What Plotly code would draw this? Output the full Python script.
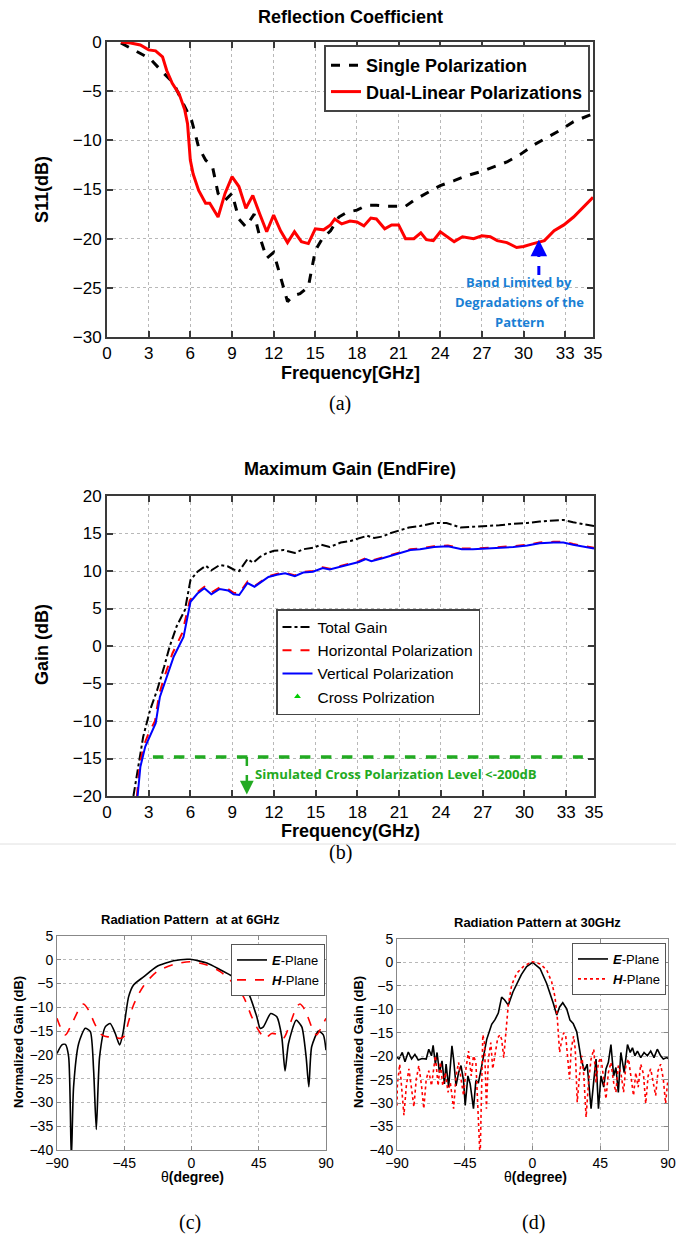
import plotly.graph_objects as go

W, H = 676, 1234

# ---------------- (a) Reflection coefficient ----------------
a_single_f = [1.0, 3.1, 4.1, 4.8, 5.5, 6.1, 6.6, 7.1, 7.6, 8.0, 8.5, 9.0, 9.5, 10.0, 10.6, 11.0,
              11.5, 12.0, 12.5, 13.0, 13.4, 13.9, 14.5, 15.0, 15.5, 16.1, 16.7, 17.3, 18.0, 18.7,
              19.4, 20.2, 20.9, 21.4, 22.1, 23.0, 24.0, 25.0, 25.9, 26.9, 27.8, 28.8, 29.8, 30.7,
              31.7, 32.6, 33.6, 35.0]
a_single_s = [-0.1, -1.7, -3.2, -4.2, -6.3, -8.0, -10.7, -12.0, -12.7, -15.4, -16.1, -15.4, -18.0,
              -18.8, -17.5, -19.8, -22.0, -21.4, -23.9, -26.4, -25.8, -25.6, -24.9, -21.2, -20.0,
              -19.2, -17.8, -17.3, -17.1, -16.6, -16.6, -16.7, -16.7, -16.8, -16.1, -15.4, -14.6,
              -14.1, -13.6, -13.2, -12.7, -12.2, -11.4, -10.5, -9.7, -9.0, -8.1, -7.3]
a_dual_f = [1.0, 1.7, 2.4, 3.0, 3.5, 4.0, 4.3, 4.7, 5.2, 5.6, 5.8, 6.0, 6.2, 6.6, 7.1, 7.4, 8.0,
            8.5, 9.0, 9.5, 10.0, 10.5, 11.0, 11.5, 12.0, 12.5, 13.0, 13.5, 14.0, 14.5, 15.0, 15.6,
            16.1, 16.4, 16.9, 17.5, 18.0, 18.5, 19.0, 19.4, 20.0, 20.5, 21.0, 21.5, 22.1, 22.6,
            23.0, 23.5, 24.0, 24.5, 25.0, 25.6, 26.4, 27.0, 27.6, 28.1, 28.8, 29.5, 30.0, 30.7,
            31.5, 32.2, 32.9, 33.6, 34.3, 35.0]
a_dual_s = [0.0, -0.1, -0.3, -0.8, -0.9, -1.5, -2.9, -4.2, -5.3, -6.9, -8.3, -12.0, -13.4, -15.1,
            -16.4, -16.4, -17.8, -15.4, -13.7, -14.7, -16.9, -15.6, -17.5, -19.3, -17.6, -19.2,
            -20.4, -19.3, -20.3, -20.5, -19.0, -19.1, -18.6, -18.0, -18.5, -18.2, -18.3, -18.7,
            -17.9, -18.0, -19.0, -18.6, -18.6, -20.0, -20.0, -19.4, -20.1, -20.2, -19.3, -19.8,
            -20.3, -19.8, -20.0, -19.7, -19.8, -20.2, -20.4, -20.9, -20.8, -20.5, -20.2, -19.2,
            -18.6, -17.8, -16.8, -15.8]
a_xticks = [0, 3, 6, 9, 12, 15, 18, 21, 24, 27, 30, 33, 35]

# ---------------- (b) Maximum gain ----------------
b_total_f = [1.9, 2.3, 2.6, 3.1, 3.6, 4.1, 4.5, 5.0, 5.6, 6.0, 6.5, 7.1, 7.5, 8.1, 8.7, 9.1, 9.5,
             10.1, 10.5, 11.0, 11.5, 12.0, 12.7, 13.5, 14.1, 14.8, 15.4, 16.0, 16.8, 17.5, 18.1,
             18.7, 19.2, 19.8, 20.3, 21.1, 21.7, 22.5, 23.5, 24.4, 25.4, 26.3, 27.3, 28.2, 29.2,
             30.2, 31.1, 32.1, 32.8, 33.5, 34.2, 35.0]
b_total_g = [-20.0, -15.6, -12.1, -8.5, -5.9, -2.8, -0.1, 2.6, 4.8, 8.8, 9.9, 10.7, 10.1, 10.8,
             10.6, 10.2, 10.0, 11.6, 11.1, 11.9, 12.4, 12.7, 12.8, 12.4, 12.9, 13.1, 13.5, 13.2,
             13.8, 14.0, 14.4, 14.7, 14.4, 14.6, 15.0, 15.5, 15.8, 16.0, 16.4, 16.4, 15.8, 15.9,
             16.0, 16.1, 16.3, 16.4, 16.6, 16.7, 16.8, 16.5, 16.3, 16.0]
b_vert_f = [2.2, 2.4, 2.75, 3.1, 3.5, 3.8, 4.3, 4.8, 5.5, 6.0, 6.5, 7.0, 7.5, 8.1, 8.7, 9.1, 9.5,
            10.1, 10.6, 11.0, 11.6, 12.2, 12.8, 13.5, 14.1, 14.8, 15.5, 16.0, 16.8, 17.5, 18.1,
            18.6, 19.0, 19.8, 20.3, 21.1, 21.8, 22.5, 23.5, 24.5, 25.5, 26.3, 27.3, 28.2, 29.2,
            30.2, 31.1, 32.1, 32.8, 33.5, 35.0]
b_vert_g = [-20.0, -16.1, -13.4, -11.9, -10.3, -6.8, -4.1, -1.4, 1.2, 5.9, 7.0, 7.7, 6.9, 7.6,
            7.4, 6.9, 6.8, 8.4, 7.9, 8.4, 9.2, 9.5, 9.7, 9.3, 9.8, 9.9, 10.4, 10.2, 10.6, 10.9,
            11.2, 11.6, 11.3, 11.7, 12.0, 12.4, 12.8, 12.9, 13.2, 13.3, 12.9, 12.9, 13.0, 13.1,
            13.2, 13.4, 13.7, 13.8, 13.8, 13.5, 13.0]
b_horiz_f = [2.15, 2.35, 2.7, 3.0, 3.45, 3.75, 4.2, 4.7, 5.4, 5.95, 6.5, 7.0, 7.5, 8.1, 8.7, 9.1,
             9.5, 10.1, 10.6, 11.0, 11.6, 12.2, 12.8, 13.5, 14.1, 14.8, 15.5, 16.0, 16.8, 17.5,
             18.1, 18.6, 19.0, 19.8, 20.3, 21.1, 21.8, 22.5, 23.5, 24.5, 25.5, 26.3, 27.3, 28.2,
             29.2, 30.2, 31.1, 32.1, 32.8, 33.5, 35.0]
b_horiz_g = [-20.0, -15.7, -13.0, -11.6, -10.0, -6.4, -3.7, -1.0, 1.7, 6.1, 7.2, 7.9, 7.1, 7.8,
             7.6, 7.1, 7.0, 8.6, 8.0, 8.5, 9.3, 9.6, 9.8, 9.4, 9.9, 10.0, 10.5, 10.3, 10.7, 11.0,
             11.3, 11.7, 11.4, 11.8, 12.1, 12.5, 12.9, 13.0, 13.3, 13.4, 13.0, 13.0, 13.1, 13.2,
             13.3, 13.5, 13.8, 13.9, 13.9, 13.6, 13.1]
b_cross_f = [3.3, 34.2]
b_cross_g = [-14.8, -14.8]
b_xticks = [0, 3, 6, 9, 12, 15, 18, 21, 24, 27, 30, 33, 35]

# ---------------- (c) Radiation pattern 6 GHz ----------------
c_e_th = [-90, -86.7, -84.4, -82.2, -80.4, -78.9, -75.5, -71.1, -67.7, -65.5, -63.7, -61.5, -57.7,
          -54.4, -51.0, -48.1, -45.9, -42.1, -38.8, -32.1, -23.2, -12.0, -0.9, 10.3, 19.2, 28.1,
          34.8, 39.2, 43.7, 45.9, 48.1, 53.0, 57.1, 60.4, 62.6, 64.9, 70.0, 73.8, 76.7, 78.5, 80.4,
          84.9, 88.2, 90]
c_e_g = [-19.7, -17.9, -17.8, -20.4, -42.0, -26.7, -17.6, -14.4, -15.1, -23.2, -35.7, -20.4, -14.1,
         -13.4, -15.5, -17.9, -15.5, -7.8, -5.3, -3.6, -1.4, -0.2, 0.1, -0.7, -2.1, -3.6, -5.0,
         -7.8, -12.0, -14.4, -14.1, -11.3, -12.0, -16.2, -23.4, -17.6, -12.7, -14.1, -20.4, -26.7,
         -18.3, -15.0, -15.8, -19.0]
c_h_th = [-90, -87.8, -84.4, -80.0, -74.4, -72.2, -68.8, -64.4, -60.0, -55.5, -52.1, -48.8, -45.4,
          -42.1, -38.8, -32.1, -23.2, -12.0, -0.9, 10.3, 19.2, 28.1, 34.8, 40.3, 44.8, 49.3, 53.7,
          58.2, 61.5, 66.0, 70.4, 72.6, 76.0, 80.4, 83.7, 87.1, 90]
c_h_g = [-12.3, -14.1, -15.8, -13.4, -9.9, -9.3, -10.6, -13.7, -15.8, -16.2, -15.8, -16.5, -16.2,
         -13.0, -9.5, -5.5, -2.5, -1.0, -0.4, -1.1, -2.5, -5.0, -7.8, -12.0, -14.8, -16.5, -15.5,
         -15.8, -16.5, -13.4, -9.9, -9.3, -10.6, -14.1, -15.8, -14.1, -12.3]

# ---------------- (d) Radiation pattern 30 GHz ----------------
d_e_th = [-90, -88.7, -86.5, -84.7, -82.5, -80.3, -78.1, -75.9, -73.3, -70.6, -68.9, -67.1, -66.0,
          -64.5, -63.4, -61.8, -60.1, -58.5, -57.4, -55.7, -53.5, -52.4, -50.8, -49.1, -47.5,
          -45.8, -44.7, -42.9, -41.4, -39.2, -37.6, -35.9, -34.1, -32.6, -30.4, -27.1, -24.9,
          -22.7, -20.5, -18.5, -16.1, -13.0, -10.5, -7.4, -3.9, 0.1, 5.0, 9.4, 13.8, 16.1, 18.0,
          20.1, 22.7, 24.9, 27.0, 29.4, 32.3, 34.5, 36.3, 37.8, 38.9, 40.7, 42.2, 43.8, 45.5,
          47.3, 48.8, 50.4, 52.1, 53.9, 55.4, 57.0, 58.7, 60.9, 63.1, 64.9, 66.4, 68.0, 69.7,
          71.9, 74.1, 76.3, 78.5, 80.7, 82.9, 85.1, 86.9, 89.1, 90]
d_e_g = [-20.2, -20.6, -19.2, -21.2, -19.1, -20.6, -19.6, -20.8, -20.5, -20.6, -18.5, -19.9, -17.7,
         -21.7, -19.2, -23.5, -21.0, -25.9, -21.7, -26.6, -17.8, -20.6, -26.3, -23.5, -22.0,
         -25.2, -30.5, -24.2, -25.9, -31.2, -25.2, -25.6, -22.7, -19.9, -16.4, -13.2, -12.2,
         -10.8, -7.4, -8.0, -9.1, -6.3, -4.5, -2.6, -0.9, 0.0, -1.3, -4.5, -8.7, -11.2, -9.5,
         -8.6, -9.9, -12.3, -13.0, -14.8, -20.6, -23.1, -21.7, -26.3, -31.2, -25.2, -20.6, -31.2,
         -24.2, -26.6, -22.7, -21.3, -17.5, -24.2, -22.4, -27.7, -19.2, -23.5, -17.5, -19.2,
         -18.2, -19.9, -18.9, -20.3, -19.2, -19.9, -18.9, -20.3, -18.5, -19.9, -20.6, -20.3, -20.5]
d_h_th = [-90, -89.8, -88.2, -86.9, -85.4, -83.8, -82.1, -80.3, -78.8, -77.2, -75.5, -73.7, -72.2,
          -70.6, -68.9, -67.1, -65.6, -64.5, -62.7, -61.2, -59.6, -57.9, -56.1, -54.6, -52.4,
          -50.8, -49.1, -47.3, -45.8, -44.2, -42.5, -40.7, -39.2, -37.6, -36.3, -35.4, -34.8,
          -34.1, -33.0, -31.9, -30.6, -29.3, -27.7, -26.4, -24.9, -23.1, -21.6, -20.5, -19.1,
          -17.8, -16.1, -13.8, -10.5, -6.1, -0.5, 5.0, 9.4, 12.7, 14.9, 16.4, 18.0, 19.1, 20.7,
          22.0, 23.5, 24.6, 25.7, 27.3, 28.4, 29.7, 31.2, 32.8, 34.1, 35.6, 37.2, 38.9, 40.7,
          42.2, 43.8, 45.5, 47.3, 48.8, 50.4, 52.1, 53.9, 55.4, 57.0, 58.7, 60.5, 62.0, 63.8,
          65.3, 67.1, 68.6, 70.2, 71.9, 73.7, 75.2, 76.8, 78.5, 80.3, 81.8, 83.4, 85.1, 86.9,
          88.4, 89.5, 90]
d_h_g = [-30.5, -26.3, -21.7, -26.3, -32.6, -26.3, -22.7, -27.0, -30.8, -24.9, -22.0, -26.3, -31.2,
         -24.9, -23.1, -26.3, -22.7, -19.9, -26.3, -21.3, -26.3, -23.5, -27.7, -25.6, -31.2,
         -24.2, -21.3, -25.6, -28.4, -22.7, -18.9, -24.2, -19.9, -21.3, -31.2, -40.5, -42.0,
         -31.2, -15.4, -17.1, -31.2, -20.6, -17.1, -22.7, -19.9, -16.1, -15.4, -16.4, -20.3,
         -15.7, -9.1, -4.8, -2.3, -0.9, 0.2, -0.3, -1.6, -4.1, -7.3, -11.5, -19.2, -17.1, -15.0,
         -15.4, -21.3, -24.9, -18.5, -15.7, -18.5, -29.8, -24.2, -19.9, -24.2, -33.0, -25.6,
         -20.6, -18.5, -25.6, -21.3, -20.3, -24.9, -29.1, -23.5, -21.3, -25.6, -27.7, -22.0,
         -23.5, -27.7, -22.0, -20.6, -24.2, -28.4, -23.5, -26.6, -21.7, -23.8, -30.1, -24.2,
         -22.7, -25.6, -28.4, -23.1, -21.7, -24.9, -30.1, -26.3, -25.0]
pat_xticks = [-90, -45, 0, 45, 90]


def px(x, y):
    return x / W, 1 - y / H


def dom_x(l, r):
    return [l / W, r / W]


def dom_y(top, bottom):
    return [1 - bottom / H, 1 - top / H]


SANS = "Liberation Sans, Arial, sans-serif"
SERIF = "Liberation Serif, Times New Roman, serif"

fig = go.Figure()

# (a)
fig.add_trace(go.Scatter(x=a_single_f, y=a_single_s, mode="lines", name="<b>Single Polarization</b>",
                         line=dict(color="black", width=3, dash="dash"), xaxis="x", yaxis="y",
                         legend="legend"))
fig.add_trace(go.Scatter(x=a_dual_f, y=a_dual_s, mode="lines", name="<b>Dual-Linear Polarizations</b>",
                         line=dict(color="#ff0000", width=3), xaxis="x", yaxis="y", legend="legend"))

# (b)
fig.add_trace(go.Scatter(x=b_total_f, y=b_total_g, mode="lines", name="Total Gain",
                         line=dict(color="black", width=2, dash="dashdot"), xaxis="x2", yaxis="y2",
                         legend="legend2"))
fig.add_trace(go.Scatter(x=b_horiz_f, y=b_horiz_g, mode="lines", name="Horizontal Polarization",
                         line=dict(color="#ff0000", width=2, dash="dash"), xaxis="x2", yaxis="y2",
                         legend="legend2"))
fig.add_trace(go.Scatter(x=b_vert_f, y=b_vert_g, mode="lines", name="Vertical Polarization",
                         line=dict(color="#0000ff", width=2), xaxis="x2", yaxis="y2",
                         legend="legend2"))
fig.add_trace(go.Scatter(x=[None], y=[None], mode="markers", name="Cross Polrization",
                         marker=dict(color="#00cc00", symbol="triangle-up", size=6),
                         xaxis="x2", yaxis="y2", legend="legend2"))
fig.add_trace(go.Scatter(x=b_cross_f, y=b_cross_g, mode="lines", showlegend=False,
                         line=dict(color="#22aa22", width=3.5, dash="dash"), xaxis="x2", yaxis="y2"))

# (c)
fig.add_trace(go.Scatter(x=c_e_th, y=c_e_g, mode="lines", name="<b><i>E</i></b>-Plane",
                         line=dict(color="black", width=1.6, shape="spline", smoothing=0.6),
                         xaxis="x3", yaxis="y3", legend="legend3"))
fig.add_trace(go.Scatter(x=c_h_th, y=c_h_g, mode="lines", name="<b><i>H</i></b>-Plane",
                         line=dict(color="#ff0000", width=1.6, dash="dash", shape="spline", smoothing=0.8),
                         xaxis="x3", yaxis="y3", legend="legend3"))

# (d)
fig.add_trace(go.Scatter(x=d_e_th, y=d_e_g, mode="lines", name="<b><i>E</i></b>-Plane",
                         line=dict(color="black", width=1.6), xaxis="x4", yaxis="y4",
                         legend="legend4"))
fig.add_trace(go.Scatter(x=d_h_th, y=d_h_g, mode="lines", name="<b><i>H</i></b>-Plane",
                         line=dict(color="#ff0000", width=1.6, dash="dot"), xaxis="x4", yaxis="y4",
                         legend="legend4"))

grid = dict(showgrid=True, gridcolor="#b8b8b8", griddash="dot", gridwidth=1, zeroline=False,
            showline=True, mirror="ticks", ticks="inside", automargin=False)

big_ax = dict(grid, linecolor="#3a3a3a", linewidth=2, ticklen=6, tickwidth=1.5, tickcolor="#3a3a3a",
              tickfont=dict(family=SANS, size=17, color="black"))
small_ax = dict(grid, linecolor="#888888", linewidth=1, ticklen=4, tickwidth=1, tickcolor="#888888",
                tickfont=dict(family=SANS, size=14, color="black"))

layout = dict(
    width=W, height=H, margin=dict(l=0, r=0, t=0, b=0, autoexpand=False),
    paper_bgcolor="white", plot_bgcolor="white", showlegend=True,
    xaxis=dict(big_ax, domain=dom_x(107, 593), range=[0, 35], tickvals=a_xticks, anchor="y"),
    yaxis=dict(big_ax, domain=dom_y(42, 337), range=[-30, 0], dtick=5, anchor="x"),
    xaxis2=dict(big_ax, domain=dom_x(107, 594), range=[0, 35], tickvals=b_xticks, anchor="y2"),
    yaxis2=dict(big_ax, domain=dom_y(496, 796), range=[-20, 20], dtick=5, anchor="x2"),
    xaxis3=dict(small_ax, domain=dom_x(57, 326), range=[-90, 90], tickvals=pat_xticks, anchor="y3"),
    yaxis3=dict(small_ax, domain=dom_y(936, 1150), range=[-40, 5], dtick=5, anchor="x3"),
    xaxis4=dict(small_ax, domain=dom_x(397, 668), range=[-90, 90], tickvals=pat_xticks, anchor="y4"),
    yaxis4=dict(small_ax, domain=dom_y(939, 1150), range=[-40, 5], dtick=5, anchor="x4"),
    legend=dict(x=590 / W, y=1 - 45 / H, xanchor="right", yanchor="top", bgcolor="white",
                bordercolor="#444444", borderwidth=2, font=dict(family=SANS, size=18, color="black"),
                tracegroupgap=0, itemwidth=30),
    legend2=dict(x=276 / W, y=1 - 609 / H, xanchor="left", yanchor="top", bgcolor="white",
                 bordercolor="#444444", borderwidth=1.5, font=dict(family=SANS, size=15.5, color="black"),
                 itemwidth=30),
    legend3=dict(x=325 / W, y=1 - 944 / H, xanchor="right", yanchor="top", bgcolor="white",
                 bordercolor="#555555", borderwidth=1, font=dict(family=SANS, size=13, color="black"),
                 itemwidth=30),
    legend4=dict(x=666 / W, y=1 - 943 / H, xanchor="right", yanchor="top", bgcolor="white",
                 bordercolor="#555555", borderwidth=1, font=dict(family=SANS, size=13, color="black"),
                 itemwidth=30),
)
fig.update_layout(**layout)

ann = []


def text(x, y, s, size, family=SANS, color="black", angle=0, xanchor="center"):
    xx, yy = px(x, y)
    ann.append(dict(x=xx, y=yy, xref="paper", yref="paper", text=s, showarrow=False,
                    font=dict(family=family, size=size, color=color), textangle=angle,
                    xanchor=xanchor, yanchor="middle"))


text(350, 17, "<b>Reflection Coefficient</b>", 18)
text(350, 373, "<b>Frequency[GHz]</b>", 18)
text(42, 190, "<b>S11(dB)</b>", 18, angle=-90)
text(340, 404, "(a)", 20, family=SERIF)

text(350, 469, "<b>Maximum Gain (EndFire)</b>", 18)
text(350, 831, "<b>Frequency(GHz)</b>", 18)
text(42, 645, "<b>Gain (dB)</b>", 18, angle=-90)
text(340, 853, "(b)", 20, family=SERIF)

text(190, 919, "<b>Radiation Pattern  at at 6GHz</b>", 13)
text(192, 1177, "θ<b>(degree)</b>", 14)
text(18, 1042, "<b>Normalized Gain (dB)</b>", 13, angle=-90)
text(190, 1222, "(c)", 20, family=SERIF)

text(537, 922, "<b>Radiation Pattern at 30GHz</b>", 13)
text(535, 1177, "θ<b>(degree)</b>", 14)
text(358, 1042, "<b>Normalized Gain (dB)</b>", 13, angle=-90)
text(533, 1222, "(d)", 20, family=SERIF)

# (a) arrow annotation text
for i, line in enumerate(["<b>Band Limited by</b>", "<b>Degradations of the</b>", "<b>Pattern</b>"]):
    ann.append(dict(x=29.7, y=-24.4 - 2.05 * i, xref="x", yref="y", text=line, showarrow=False,
                    font=dict(family="Open Sans, sans-serif", size=13, color="#1a7fd4"),
                    xanchor="center", yanchor="middle"))
ann.append(dict(x=31.1, y=-20.1, ax=31.1, ay=-21.6, xref="x", yref="y", axref="x", ayref="y",
                text="", showarrow=True, arrowhead=2, arrowsize=1.1, arrowwidth=3, arrowcolor="#0000ff"))

# (b) cross-pol annotation
ann.append(dict(x=10.5, y=-17.1, xref="x2", yref="y2", text="<b>Simulated Cross Polarization Level <-200dB</b>",
                showarrow=False, font=dict(family="Open Sans, sans-serif", size=13.2, color="#22aa22"),
                xanchor="left", yanchor="middle"))
ann.append(dict(x=10.05, y=-19.8, ax=10.05, ay=-17.9, xref="x2", yref="y2", axref="x2", ayref="y2",
                text="", showarrow=True, arrowhead=2, arrowsize=1.1, arrowwidth=2.5, arrowcolor="#22aa22"))

fig.update_layout(annotations=ann)

fig.add_shape(type="line", x0=31.1, x1=31.1, y0=-23.7, y1=-21.4, xref="x", yref="y",
              line=dict(color="#0000ff", width=3, dash="dash"))
fig.add_shape(type="line", x0=10.05, x1=10.05, y0=-14.8, y1=-18.2, xref="x2", yref="y2",
              line=dict(color="#22aa22", width=2.5, dash="dash"))
fig.add_shape(type="line", x0=0, x1=1, y0=1 - 844 / H, y1=1 - 844 / H, xref="paper", yref="paper",
              line=dict(color="#e0e0e0", width=1))

fig.write_html("out.html", config={"displayModeBar": False},
               post_script="document.body.style.margin='0';document.body.style.overflow='hidden';")
